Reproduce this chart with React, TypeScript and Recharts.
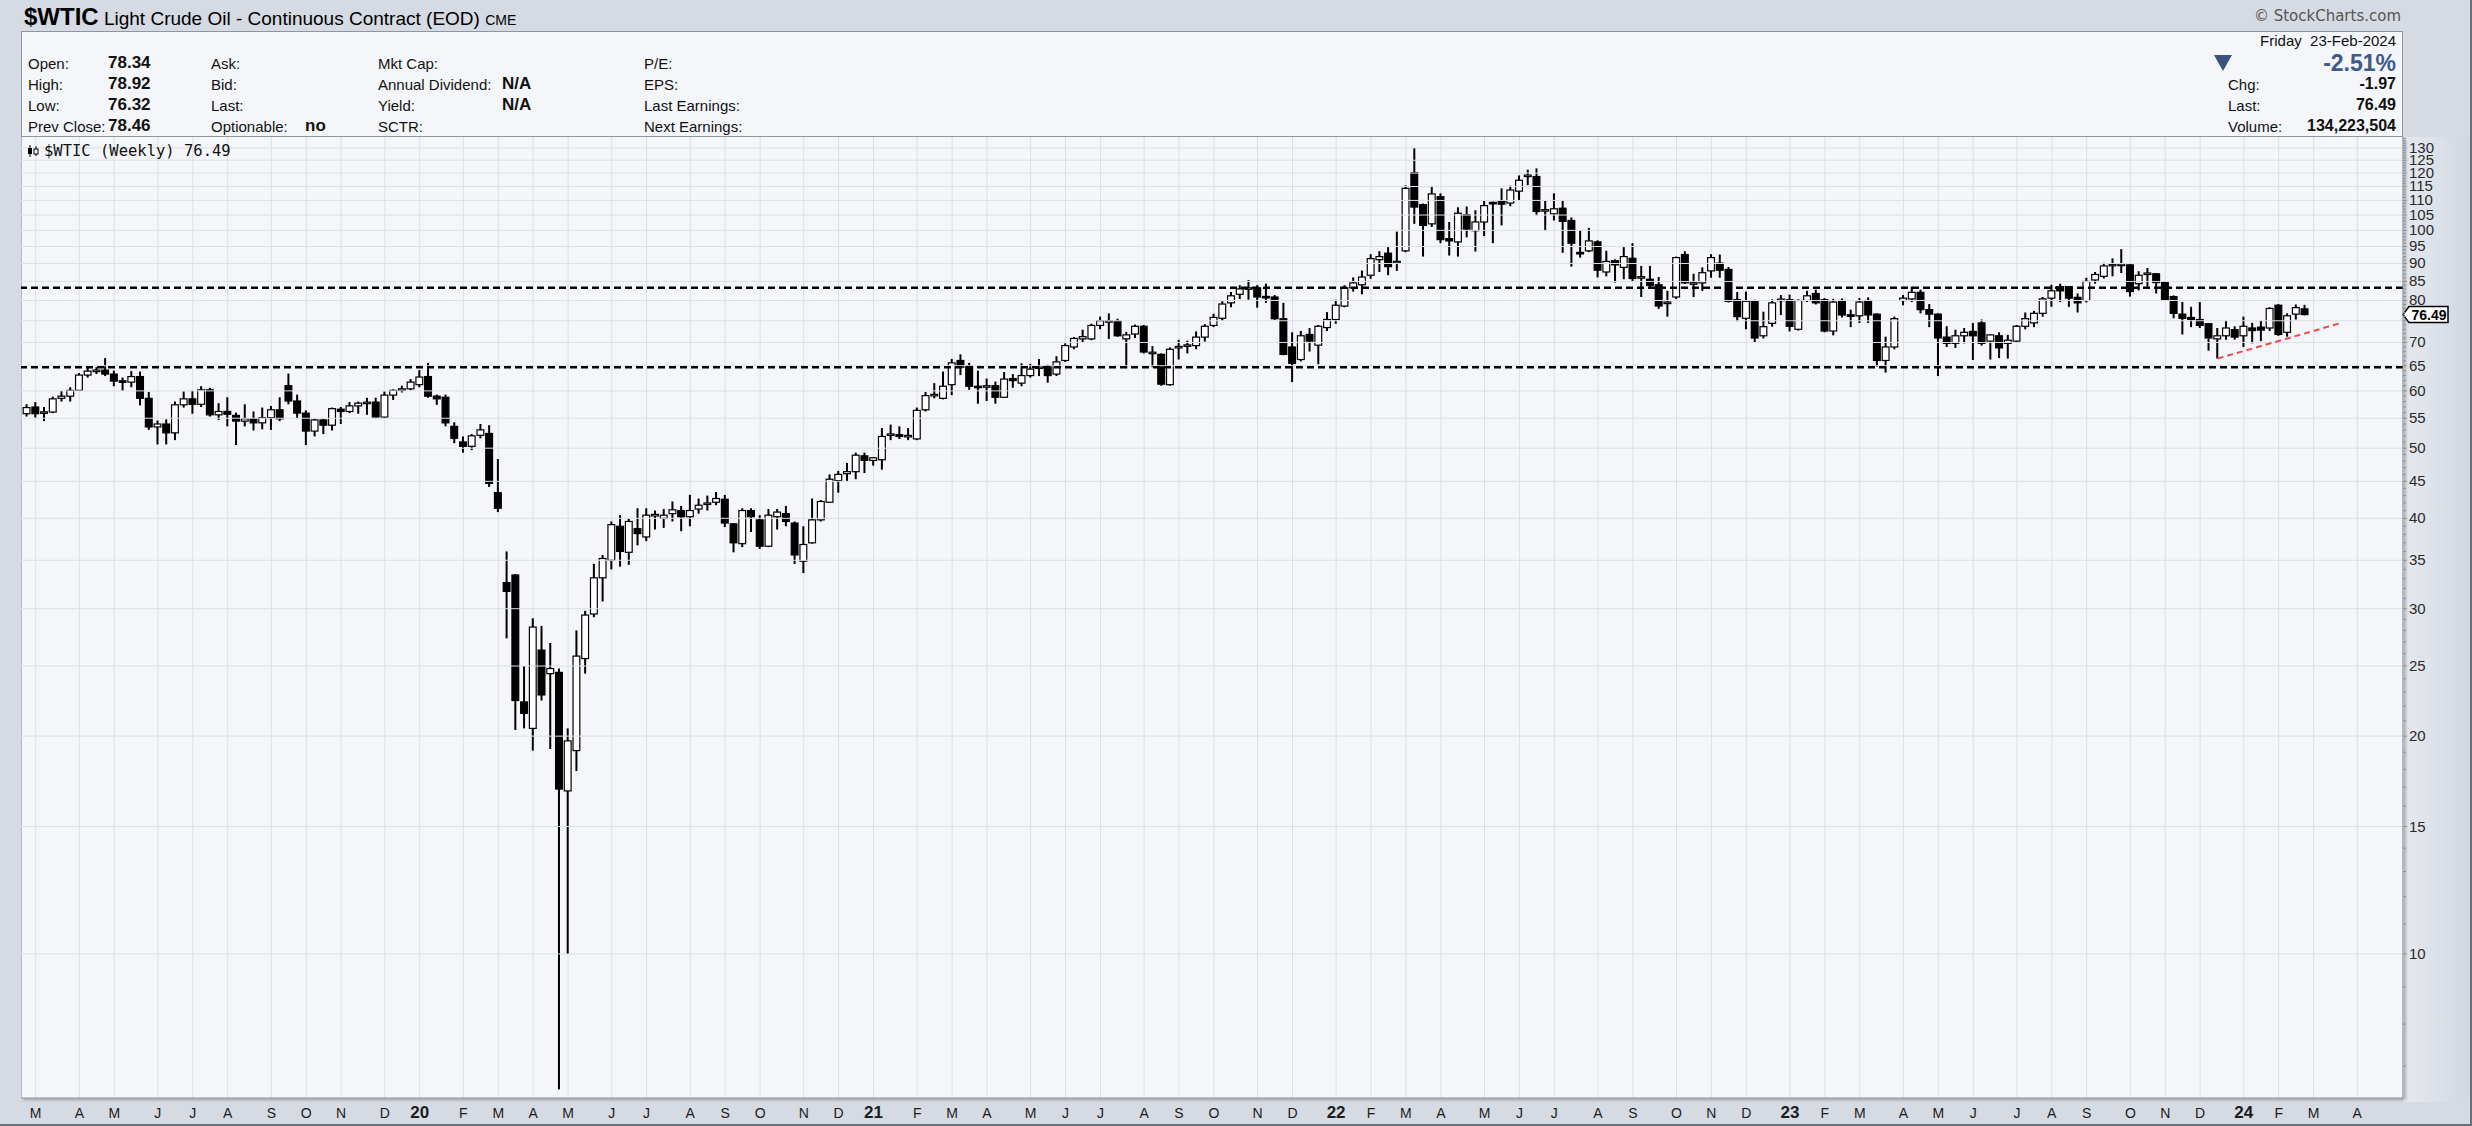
import React from "react";
import { ComposedChart, Bar, XAxis, YAxis, CartesianGrid, ReferenceLine } from "recharts";

type OHLC = [number, number, number, number];

// weekly bars [open, high, low, close], one per week ending Friday, first week ends 22-Feb-2019
const ohlc2019: OHLC[] = [
  [55.8, 57.5, 55.3, 56.9], [57.0, 57.9, 55.1, 55.8], [55.9, 57.0, 54.5, 56.1], [56.1, 58.9, 55.9, 58.5],
  [58.6, 60.0, 58.0, 59.0], [59.0, 60.7, 58.0, 60.1], [60.1, 63.5, 60.0, 63.1], [63.1, 64.8, 62.6, 63.9],
  [63.9, 64.7, 63.3, 64.0], [64.1, 66.6, 62.9, 63.3], [63.3, 64.0, 60.9, 61.9], [61.9, 62.6, 60.0, 61.7],
  [61.7, 63.9, 60.7, 62.8], [62.8, 63.8, 57.3, 58.6], [58.6, 59.8, 53.0, 53.5], [53.5, 54.6, 50.6, 54.0],
  [54.0, 54.8, 50.6, 52.5], [52.5, 58.0, 51.3, 57.4], [57.4, 59.9, 56.9, 58.5], [58.5, 60.0, 55.8, 57.5],
  [57.5, 60.9, 57.0, 60.2], [60.2, 60.6, 55.3, 55.6], [55.6, 57.7, 54.7, 56.2], [56.2, 58.8, 53.6, 55.7],
  [55.5, 56.0, 50.5, 54.5], [54.5, 57.5, 53.6, 54.9], [54.9, 56.2, 52.9, 54.2], [54.2, 56.9, 53.1, 55.1],
  [55.1, 57.2, 53.0, 56.5], [56.5, 58.8, 54.5, 54.9], [61.0, 63.4, 57.5, 58.1], [58.1, 59.3, 55.0, 55.9],
  [55.9, 56.4, 50.5, 52.8], [52.8, 54.9, 51.9, 54.7], [54.7, 54.9, 52.3, 53.8], [53.8, 56.9, 52.9, 56.7],
  [56.6, 57.0, 54.0, 56.2], [56.2, 57.9, 55.9, 57.2], [57.2, 58.0, 55.8, 57.7], [57.7, 58.7, 55.6, 57.8],
  [57.9, 58.7, 55.1, 55.2], [55.2, 59.9, 55.0, 59.2], [59.2, 60.3, 58.3, 60.1], [60.1, 61.0, 59.7, 60.4],
  [60.4, 62.3, 60.1, 61.7],
];

const ohlc2020: OHLC[] = [
  [61.2, 64.1, 60.7, 62.7], [62.8, 65.6, 58.7, 59.0], [59.0, 59.3, 57.4, 58.5], [58.8, 59.3, 53.6, 54.2],
  [53.6, 54.3, 50.8, 51.6], [51.0, 51.9, 49.3, 50.3], [50.3, 52.3, 49.7, 52.0], [52.1, 54.0, 51.6, 53.0],
  [52.4, 53.8, 44.2, 44.7], [43.4, 48.3, 40.8, 41.3], [32.6, 36.0, 27.3, 31.7], [33.4, 33.5, 20.4, 22.4],
  [22.3, 25.0, 20.5, 21.5], [20.5, 29.1, 19.1, 28.3], [26.3, 28.4, 22.4, 22.8], [24.4, 26.9, 19.2, 24.8],
  [24.5, 24.8, 6.5, 16.9], [16.8, 20.5, 10.0, 19.7], [19.1, 28.0, 17.9, 25.8], [25.6, 29.8, 24.4, 29.4],
  [29.5, 34.6, 29.2, 33.1], [33.1, 35.6, 30.7, 35.2], [35.0, 39.6, 34.0, 39.2], [39.0, 40.4, 34.3, 36.0],
  [35.9, 40.0, 34.5, 39.6], [38.7, 41.3, 36.7, 38.1], [37.7, 41.3, 37.2, 40.4], [40.3, 41.0, 38.6, 40.5],
  [40.0, 41.2, 38.8, 40.4], [40.6, 42.2, 39.6, 41.1], [41.0, 41.6, 38.4, 40.2], [40.2, 43.1, 39.0, 41.0],
  [41.2, 42.6, 40.6, 41.7], [41.8, 43.0, 41.0, 42.0], [42.1, 43.5, 41.7, 42.6], [42.5, 43.1, 38.9, 39.4],
  [39.3, 39.4, 35.9, 37.0], [36.9, 41.3, 36.5, 41.0], [41.0, 41.3, 38.3, 40.2], [39.8, 40.4, 36.3, 36.6],
  [36.6, 41.2, 36.5, 40.4], [40.2, 41.2, 38.6, 40.8], [40.6, 41.6, 39.0, 39.6], [39.4, 39.6, 34.6, 35.6],
  [34.9, 39.0, 33.6, 36.8], [37.0, 42.6, 36.9, 39.8], [39.8, 42.4, 39.6, 42.2], [42.1, 46.0, 42.1, 45.3],
  [45.1, 46.5, 43.4, 46.0], [46.1, 47.7, 45.0, 46.4], [46.4, 49.3, 45.3, 48.9], [48.8, 49.3, 46.2, 48.1],
];

const ohlc2021: OHLC[] = [
  [48.1, 48.6, 47.3, 48.5], [48.2, 53.3, 46.7, 51.9], [52.1, 53.9, 51.3, 52.3], [52.2, 53.6, 51.5, 51.9],
  [51.9, 53.3, 51.3, 52.0], [51.5, 56.9, 51.3, 56.4], [56.5, 59.8, 56.2, 59.1], [59.1, 61.5, 58.6, 59.3],
  [58.6, 63.8, 58.4, 60.9], [61.2, 66.4, 59.2, 65.6], [66.1, 67.4, 63.1, 64.7], [64.9, 65.6, 60.2, 60.9],
  [60.8, 64.0, 57.6, 60.7], [60.8, 62.4, 58.1, 60.9], [61.0, 61.8, 57.6, 58.8], [58.8, 63.7, 58.7, 62.3],
  [62.4, 63.3, 60.6, 62.0], [61.5, 65.5, 60.9, 63.0], [63.0, 65.4, 62.6, 64.3], [64.5, 66.4, 62.9, 64.7],
  [64.9, 65.2, 61.6, 63.0], [63.3, 67.0, 62.9, 65.8], [66.1, 69.8, 65.8, 69.3], [69.0, 71.2, 68.5, 70.9],
  [70.8, 72.9, 70.1, 71.3], [70.8, 74.3, 70.5, 73.9], [73.9, 76.0, 73.0, 75.0], [74.8, 76.8, 70.8, 74.9],
  [74.9, 75.5, 71.3, 71.5], [70.8, 72.4, 64.5, 71.7], [71.9, 74.1, 71.0, 73.7], [73.7, 74.0, 67.6, 67.9],
  [67.6, 69.2, 64.7, 67.8], [67.4, 67.6, 61.0, 61.3], [61.2, 68.9, 61.0, 68.5], [68.8, 70.6, 66.3, 69.1],
  [69.2, 70.4, 67.6, 69.4], [69.3, 72.5, 68.5, 71.2], [71.2, 74.2, 70.2, 73.7], [73.9, 76.7, 73.5, 75.8],
  [75.6, 79.8, 75.0, 79.1], [79.4, 82.2, 78.3, 81.2], [81.6, 84.0, 80.4, 83.0], [83.0, 85.4, 80.2, 83.2],
  [83.3, 84.0, 78.2, 80.9], [80.9, 84.4, 79.4, 80.8], [80.9, 81.4, 75.2, 75.5], [75.5, 79.4, 67.2, 67.4],
  [69.0, 72.3, 61.7, 65.5], [66.3, 72.6, 65.9, 71.5], [71.8, 73.3, 68.0, 70.3], [69.4, 74.0, 65.3, 73.7],
  [73.4, 77.1, 72.6, 75.3],
];

const ohlc2022: OHLC[] = [
  [75.3, 80.2, 74.3, 78.8], [78.6, 84.0, 78.3, 83.3], [83.3, 86.1, 82.3, 84.6], [84.1, 88.0, 81.6, 86.2],
  [86.7, 92.7, 85.7, 91.4], [91.1, 93.6, 87.6, 92.0], [93.0, 94.8, 86.7, 89.1], [90.2, 99.6, 87.9, 90.6],
  [93.7, 115.4, 93.3, 114.3], [120.2, 130.0, 102.1, 107.7], [108.5, 108.9, 92.0, 101.6], [102.1, 115.2, 101.1, 112.3],
  [111.3, 112.5, 96.0, 97.1], [97.4, 102.7, 92.3, 96.7], [96.4, 107.6, 92.0, 105.6], [105.1, 107.9, 97.8, 100.4],
  [99.9, 106.6, 93.5, 102.7], [102.7, 109.8, 98.2, 108.2], [109.2, 109.6, 96.0, 108.9], [109.8, 114.3, 101.6, 108.7],
  [109.1, 115.3, 108.0, 113.7], [113.3, 119.1, 110.0, 117.3], [118.8, 121.3, 115.5, 119.1], [118.7, 121.8, 104.9, 106.2],
  [106.5, 109.8, 99.9, 106.6], [105.4, 112.5, 103.2, 107.1], [107.3, 109.8, 93.1, 102.9], [103.2, 104.2, 89.1, 96.0],
  [93.1, 100.0, 91.7, 92.9], [93.7, 100.8, 93.3, 96.7], [96.4, 96.9, 86.1, 88.1], [87.6, 93.7, 86.4, 90.6],
  [90.8, 91.2, 84.7, 89.6], [88.9, 94.8, 85.6, 92.0], [91.5, 96.0, 85.0, 85.8], [86.0, 89.3, 80.9, 86.2],
  [85.6, 89.3, 83.0, 83.9], [84.1, 86.2, 77.9, 78.6], [79.3, 82.5, 76.0, 79.5], [80.9, 92.0, 80.4, 91.7],
  [92.6, 93.6, 84.3, 84.6], [84.4, 87.1, 80.9, 84.5], [84.6, 88.9, 82.5, 87.4], [87.9, 92.7, 86.0, 91.7],
  [90.1, 92.6, 86.0, 88.1], [88.3, 89.0, 79.5, 79.8], [80.2, 82.2, 74.9, 76.0], [75.6, 82.3, 73.0, 79.8],
  [79.8, 80.2, 70.1, 71.0], [71.5, 77.2, 70.9, 73.6], [74.4, 80.3, 73.6, 79.4], [80.0, 81.4, 76.4, 80.3],
];

const ohlc2023: OHLC[] = [
  [80.2, 81.5, 72.5, 73.7], [73.0, 80.3, 72.7, 80.0], [80.0, 82.5, 79.6, 81.2], [81.8, 82.8, 79.0, 79.4],
  [80.2, 80.6, 72.3, 72.6], [72.6, 80.4, 71.6, 79.6], [80.0, 80.5, 75.8, 76.4], [76.3, 77.7, 73.5, 76.2],
  [76.2, 80.6, 74.5, 79.6], [80.0, 80.8, 74.5, 76.4], [76.6, 76.8, 64.8, 66.1], [66.1, 71.3, 63.6, 69.0],
  [69.0, 76.0, 68.5, 75.5], [80.0, 81.4, 78.8, 80.6], [80.4, 83.6, 79.6, 82.1], [82.1, 82.8, 76.8, 77.7],
  [77.7, 79.1, 73.5, 76.6], [76.6, 76.8, 62.9, 71.0], [71.2, 73.7, 69.0, 69.8], [69.8, 72.9, 68.8, 71.5],
  [71.5, 73.3, 69.8, 72.3], [72.5, 74.5, 66.2, 71.5], [74.5, 75.3, 69.3, 69.8], [70.3, 71.8, 66.3, 71.7],
  [71.5, 72.3, 66.6, 68.8], [69.8, 71.7, 66.5, 70.5], [70.3, 74.0, 70.0, 73.7], [73.7, 77.0, 73.0, 75.5],
  [74.5, 77.4, 73.5, 76.8], [76.8, 80.9, 76.0, 80.4], [80.6, 84.1, 78.4, 82.5], [83.6, 84.4, 79.6, 82.5],
  [83.6, 83.6, 78.4, 80.6], [80.8, 81.8, 77.0, 79.4], [80.0, 86.0, 79.5, 85.0], [85.4, 87.6, 84.4, 86.9],
  [86.4, 90.2, 85.8, 89.3], [89.4, 91.5, 86.4, 89.7], [89.5, 94.2, 87.3, 89.7], [89.6, 89.8, 81.0, 82.3],
  [84.4, 87.8, 82.6, 86.7], [87.0, 88.7, 83.6, 87.2], [87.1, 87.3, 81.8, 84.7], [84.7, 85.0, 80.0, 80.2],
  [81.0, 81.3, 75.6, 76.8], [76.6, 79.6, 71.8, 75.6], [75.8, 78.4, 73.5, 75.3], [75.3, 79.6, 73.3, 73.9],
  [74.3, 74.3, 68.2, 71.0], [70.8, 73.3, 66.5, 71.5], [71.5, 75.0, 70.6, 73.3], [72.9, 73.7, 70.6, 71.2],
];

const ohlc2024: OHLC[] = [
  [71.5, 76.0, 69.0, 73.7], [73.3, 74.5, 69.8, 72.7], [73.5, 75.0, 70.3, 72.8], [73.3, 78.3, 72.6, 78.0],
  [78.8, 79.1, 71.5, 71.8], [72.3, 76.8, 71.3, 76.2], [76.6, 79.0, 75.3, 78.2], [77.9, 78.9, 76.3, 76.5],
];

const monthLetters = ["J", "F", "M", "A", "M", "J", "J", "A", "S", "O", "N", "D"];
const priceLabels = [10, 15, 20, 25, 30, 35, 40, 45, 50, 55, 60, 65, 70, 80, 85, 90, 95, 100, 105, 110, 115, 120, 125, 130];
const gridPrices = [10, 15, 20, 25, 30, 35, 40, 45, 50, 55, 60, 65, 70, 75, 80, 85, 90, 95, 100, 105, 110, 115, 120, 125, 130];
const levelLines = [83.3, 64.7];
const trendStart = { week: 251, price: 66.5 };
const trendEnd = { week: 265, price: 74.4 };
const lastClose = 76.49;

const quoteCol1 = [["Open:", "78.34"], ["High:", "78.92"], ["Low:", "76.32"], ["Prev Close:", "78.46"]];
const quoteCol2 = [["Ask:", ""], ["Bid:", ""], ["Last:", ""], ["Optionable:", "no"]];
const quoteCol3 = [["Mkt Cap:", ""], ["Annual Dividend:", "N/A"], ["Yield:", "N/A"], ["SCTR:", ""]];
const quoteCol4 = ["P/E:", "EPS:", "Last Earnings:", "Next Earnings:"];
const quoteRight = [["Chg:", "-1.97"], ["Last:", "76.49"], ["Volume:", "134,223,504"]];

const W = 2472;
const H = 1126;
const PLOT_L = 21;
const PLOT_T = 137;
const PLOT_R = 2403;
const PLOT_B = 1098;

const startMs = Date.UTC(2019, 1, 22);
const weekDate = (i: number) => new Date(startMs + i * 7 * 86400000);

const allWeeks = [...ohlc2019, ...ohlc2020, ...ohlc2021, ...ohlc2022, ...ohlc2023, ...ohlc2024];
const rows = allWeeks.map(([o, h, l, c], i) => ({
  i,
  hl: [l, h],
  oc: [Math.min(o, c), Math.max(o, c)],
  up: c >= o,
}));

// month gridlines sit on the first weekly bar of each month
const monthTicks: number[] = [];
for (let i = 1; i < 270; i++) {
  if (weekDate(i).getUTCMonth() !== weekDate(i - 1).getUTCMonth()) monthTicks.push(i);
}
const priceTicks: number[] = [];
for (let v = 7; v <= 134; v++) priceTicks.push(v);

const narrow = '"Liberation Sans Narrow", "Arial Narrow", "Liberation Sans", Arial, sans-serif';
const sans = '"Liberation Sans", Arial, sans-serif';

const WickShape = (p: any) => (
  <rect x={p.x} y={p.y} width={p.width} height={Math.max(p.height, 1)} fill="#000" />
);

const BodyShape = (p: any) => {
  const h = Math.max(p.height, 1.5);
  const y = p.height < 1.5 ? p.y - (1.5 - p.height) / 2 : p.y;
  return (
    <rect
      x={p.x + 0.6}
      y={y}
      width={p.width - 1.2}
      height={h}
      fill={p.payload.up ? "#ffffff" : "#000000"}
      stroke="#000"
      strokeWidth={1.2}
    />
  );
};

const MonthTick = (p: any) => {
  const d = weekDate(p.payload.value);
  const m = d.getUTCMonth();
  const isYear = m === 0;
  const label = isYear ? String(d.getUTCFullYear()).slice(2) : monthLetters[m];
  return (
    <text
      x={p.x}
      y={PLOT_B + 20}
      textAnchor="middle"
      fontFamily={narrow}
      fontSize={isYear ? 17 : 14}
      fontWeight={isYear ? 700 : 400}
      fill="#1c1c1c"
    >
      {label}
    </text>
  );
};

const PriceTick = (p: any) => {
  const v = p.payload.value;
  const major = priceLabels.includes(v) || v === 75;
  return (
    <g>
      <line x1={PLOT_R} x2={PLOT_R + (major ? 4 : 3)} y1={p.y} y2={p.y} stroke="#8a8f98" strokeWidth={1} />
      {priceLabels.includes(v) && (
        <text x={PLOT_R + 6} y={p.y + 5} fontFamily={sans} fontSize={15} fill="#2a2a2a">
          {v}
        </text>
      )}
    </g>
  );
};

const PriceTag = (p: any) => {
  const y = p.viewBox.y;
  const x = PLOT_R;
  const pts = `${x},${y} ${x + 6},${y - 8} ${x + 45},${y - 8} ${x + 45},${y + 8} ${x + 6},${y + 8}`;
  return (
    <g>
      <polygon points={pts} fill="#fff" stroke="#000" strokeWidth={1.5} />
      <text x={x + 26} y={y + 5} textAnchor="middle" fontFamily={sans} fontSize={14} fontWeight={700} fill="#000">
        {lastClose.toFixed(2)}
      </text>
    </g>
  );
};

const rowY = [63, 84, 105, 126];

function InfoPanel() {
  const lab: React.CSSProperties = { position: "absolute", fontFamily: narrow, fontSize: 15, color: "#111", lineHeight: "18px", whiteSpace: "nowrap" };
  const val: React.CSSProperties = { ...lab, fontWeight: 700, fontSize: 17 };
  return (
    <div
      style={{
        position: "absolute",
        left: PLOT_L,
        top: 31,
        width: PLOT_R - PLOT_L,
        height: PLOT_T - 31,
        background: "#f4f6fa",
        border: "1px solid #8f949d",
        boxSizing: "border-box",
      }}
    >
      {quoteCol1.map(([a, b], k) => (
        <React.Fragment key={"c1" + k}>
          <div style={{ ...lab, left: 6, top: rowY[k] - 40 }}>{a}</div>
          <div style={{ ...val, left: 86, top: rowY[k] - 41 }}>{b}</div>
        </React.Fragment>
      ))}
      {quoteCol2.map(([a, b], k) => (
        <React.Fragment key={"c2" + k}>
          <div style={{ ...lab, left: 189, top: rowY[k] - 40 }}>{a}</div>
          <div style={{ ...val, left: 283, top: rowY[k] - 41 }}>{b}</div>
        </React.Fragment>
      ))}
      {quoteCol3.map(([a, b], k) => (
        <React.Fragment key={"c3" + k}>
          <div style={{ ...lab, left: 356, top: rowY[k] - 40 }}>{a}</div>
          <div style={{ ...val, left: 480, top: rowY[k] - 41 }}>{b}</div>
        </React.Fragment>
      ))}
      {quoteCol4.map((a, k) => (
        <div key={"c4" + k} style={{ ...lab, left: 622, top: rowY[k] - 40 }}>{a}</div>
      ))}
      <div style={{ ...lab, right: 6, top: 0, fontFamily: sans, fontSize: 15 }}>Friday&nbsp;&nbsp;23-Feb-2024</div>
      <div style={{ ...lab, right: 6, top: 18, fontFamily: sans, fontSize: 23, fontWeight: 700, lineHeight: "26px", color: "#3e5a88" }}>-2.51%</div>
      <svg style={{ position: "absolute", left: 2212 - PLOT_L, top: 22 }} width={20} height={18}>
        <polygon points="1,1 19,1 10,17" fill="#3c5380" />
      </svg>
      {quoteRight.map(([a, b], k) => (
        <React.Fragment key={"r" + k}>
          <div style={{ ...lab, left: 2227 - PLOT_L, top: rowY[k + 1] - 40 }}>{a}</div>
          <div style={{ ...val, right: 6, top: rowY[k + 1] - 41, fontFamily: sans, fontSize: 16 }}>{b}</div>
        </React.Fragment>
      ))}
    </div>
  );
}

export default function App() {
  return (
    <div
      style={{
        position: "absolute",
        left: 0,
        top: 0,
        width: W,
        height: H,
        background: "#d5dae3",
        overflow: "hidden",
        borderRight: "2px solid #6b6f77",
        borderBottom: "2px solid #6b6f77",
        boxSizing: "border-box",
      }}
    >
      {/* title bar */}
      <div style={{ position: "absolute", left: 24, top: 3, whiteSpace: "nowrap", fontFamily: narrow, color: "#000" }}>
        <span style={{ fontWeight: 700, fontSize: 24 }}>$WTIC</span>
        <span style={{ fontSize: 19 }}> Light Crude Oil - Continuous Contract (EOD) </span>
        <span style={{ fontSize: 14 }}>CME</span>
      </div>
      <div style={{ position: "absolute", right: 69, top: 7, fontFamily: "Verdana, DejaVu Sans, sans-serif", fontSize: 15, color: "#555" }}>
        © StockCharts.com
      </div>
      {/* right axis band */}
      <div
        style={{
          position: "absolute",
          left: PLOT_R,
          top: PLOT_T,
          width: W - PLOT_R,
          height: PLOT_B - PLOT_T + 4,
          background: "linear-gradient(to right, #e6e9ef, #d2d7e0)",
        }}
      />
      {/* plot background */}
      <div
        style={{
          position: "absolute",
          left: PLOT_L,
          top: PLOT_T,
          width: PLOT_R - PLOT_L,
          height: PLOT_B - PLOT_T,
          background: "#f4f6fa",
          borderLeft: "1px solid #8f949d",
          boxShadow: "2px 2px 3px rgba(0,0,0,0.25)",
        }}
      />
      <div style={{ position: "absolute", left: 0, top: 0 }}>
        <ComposedChart
          width={W}
          height={H}
          data={rows}
          margin={{ top: PLOT_T, right: 0, bottom: 0, left: PLOT_L }}
        >
          <CartesianGrid horizontal={false} stroke="#dcdfe6" strokeWidth={1} />
          <XAxis
            dataKey="i"
            type="number"
            domain={[-0.68, 272.24]}
            allowDataOverflow
            ticks={monthTicks}
            interval={0}
            height={H - PLOT_B}
            tick={<MonthTick />}
            tickLine={false}
            tickSize={0}
            axisLine={{ stroke: "#8f949d" }}
          />
          <XAxis xAxisId="b" dataKey="i" type="number" domain={[-0.68, 272.24]} allowDataOverflow hide />
          <YAxis
            yAxisId="p"
            orientation="right"
            scale="log"
            domain={[6.323, 134.6]}
            allowDataOverflow
            ticks={priceTicks}
            interval={0}
            width={W - PLOT_R}
            tick={<PriceTick />}
            tickLine={false}
            tickSize={0}
            axisLine={{ stroke: "#7d828b" }}
          />
          {gridPrices.map((v) => (
            <ReferenceLine key={"g" + v} yAxisId="p" y={v} stroke="#dcdfe6" strokeWidth={1} />
          ))}
          <Bar dataKey="hl" yAxisId="p" barSize={2} shape={<WickShape />} isAnimationActive={false} />
          <Bar dataKey="oc" yAxisId="p" xAxisId="b" barSize={8} shape={<BodyShape />} isAnimationActive={false} />
          {levelLines.map((v) => (
            <ReferenceLine key={"l" + v} yAxisId="p" y={v} stroke="#000" strokeWidth={2.5} strokeDasharray="7 4" />
          ))}
          <ReferenceLine
            yAxisId="p"
            segment={[
              { x: trendStart.week, y: trendStart.price },
              { x: trendEnd.week, y: trendEnd.price },
            ]}
            stroke="#f04848"
            strokeWidth={2}
            strokeDasharray="6 4"
          />
          <ReferenceLine yAxisId="p" y={lastClose} stroke="none" label={<PriceTag />} />
        </ComposedChart>
      </div>
      <InfoPanel />
      {/* series legend */}
      <div style={{ position: "absolute", left: 27, top: 142, display: "flex", alignItems: "center", whiteSpace: "nowrap" }}>
        <svg width={14} height={14}>
          <line x1={3} y1={1} x2={3} y2={13} stroke="#000" strokeWidth={1} />
          <rect x={1} y={4} width={4} height={6} fill="#000" />
          <line x1={9} y1={2} x2={9} y2={12} stroke="#000" strokeWidth={1} />
          <rect x={7} y={5} width={4} height={5} fill="#fff" stroke="#000" strokeWidth={1} />
        </svg>
        <span style={{ fontFamily: '"DejaVu Sans Mono", monospace', fontSize: 15.5, color: "#111", marginLeft: 3 }}>
          $WTIC (Weekly) 76.49
        </span>
      </div>
    </div>
  );
}
